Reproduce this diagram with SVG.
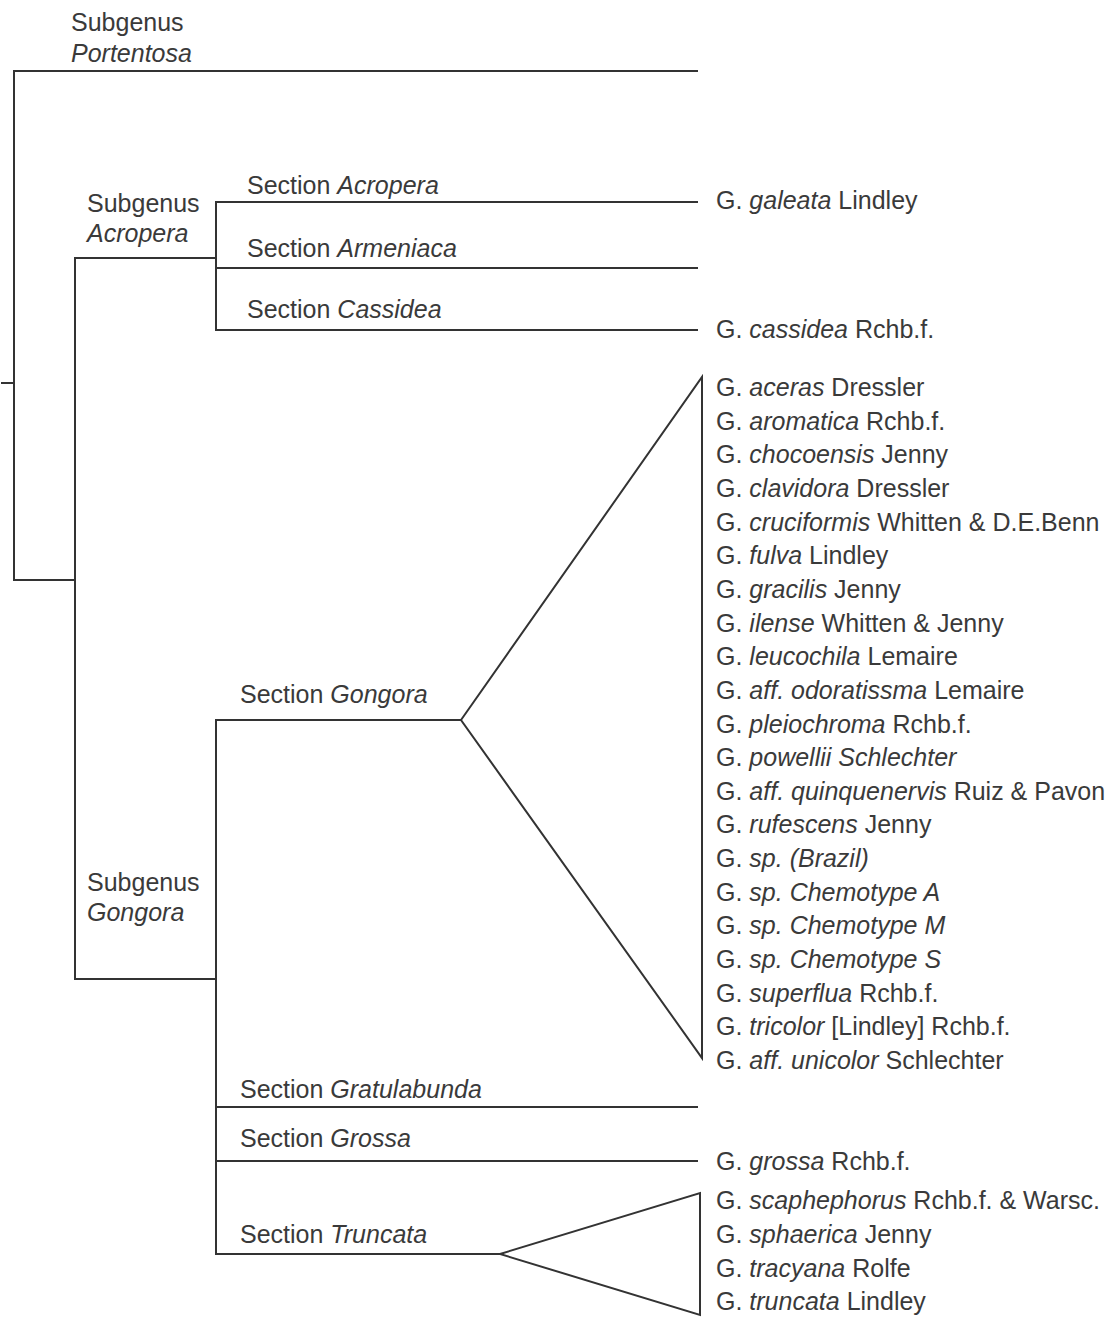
<svg xmlns="http://www.w3.org/2000/svg" width="1110" height="1317" viewBox="0 0 1110 1317">
  <style>
    .br { fill: none; stroke: #333; stroke-width: 2; stroke-linejoin: miter; stroke-linecap: square; }
    text { font-family: "Liberation Sans", Arial, sans-serif; font-size: 25px; fill: #3a3a3a; }
    .i { font-style: italic; }
  </style>
  <rect width="1110" height="1317" fill="#fff"/>

  <!-- tree branches -->
  <g id="connectors">
    <!-- root -->
    <path class="br" d="M2,383 H14"/>
    <path class="br" d="M697,71 H14 V580 H75"/>
    <!-- subgenera -->
    <path class="br" d="M216,258 H75 V979 H216"/>
    <!-- subgenus Acropera sections -->
    <path class="br" d="M697,202 H216 V330 H697"/>
    <path class="br" d="M216,268 H697"/>
    <!-- subgenus Gongora sections -->
    <path class="br" d="M461,720 H216 V1254 H500"/>
    <path class="br" d="M216,1107 H697"/>
    <path class="br" d="M216,1161 H697"/>
    <!-- collapsed clades -->
    <path class="br" d="M461,720 L702,377 V1058 Z"/>
    <path class="br" d="M500,1254 L700,1193 V1315 Z"/>
  </g>

  <!-- subgenus labels -->
  <g id="subgenus-portentosa">
    <text x="71" y="31">Subgenus</text>
    <text x="71" y="62" class="i">Portentosa</text>
  </g>
  <g id="subgenus-acropera">
    <text x="87" y="212">Subgenus</text>
    <text x="87" y="242" class="i">Acropera</text>
  </g>
  <g id="subgenus-gongora">
    <text x="87" y="891">Subgenus</text>
    <text x="87" y="921" class="i">Gongora</text>
  </g>

  <!-- section labels -->
  <g id="section-acropera"><text x="247" y="194">Section <tspan class="i">Acropera</tspan></text></g>
  <g id="section-armeniaca"><text x="247" y="257">Section <tspan class="i">Armeniaca</tspan></text></g>
  <g id="section-cassidea"><text x="247" y="318">Section <tspan class="i">Cassidea</tspan></text></g>
  <g id="section-gongora"><text x="240" y="703">Section <tspan class="i">Gongora</tspan></text></g>
  <g id="section-gratulabunda"><text x="240" y="1098">Section <tspan class="i">Gratulabunda</tspan></text></g>
  <g id="section-grossa"><text x="240" y="1147">Section <tspan class="i">Grossa</tspan></text></g>
  <g id="section-truncata"><text x="240" y="1243">Section <tspan class="i">Truncata</tspan></text></g>

  <!-- species -->
  <g id="species-acropera">
    <text x="716" y="209">G. <tspan class="i">galeata</tspan> Lindley</text>
  </g>
  <g id="species-cassidea">
    <text x="716" y="338">G. <tspan class="i">cassidea</tspan> Rchb.f.</text>
  </g>
  <g id="species-gongora">
    <text x="716" y="396">G. <tspan class="i">aceras</tspan> Dressler</text>
    <text x="716" y="430">G. <tspan class="i">aromatica</tspan> Rchb.f.</text>
    <text x="716" y="463">G. <tspan class="i">chocoensis</tspan> Jenny</text>
    <text x="716" y="497">G. <tspan class="i">clavidora</tspan> Dressler</text>
    <text x="716" y="531">G. <tspan class="i">cruciformis</tspan> Whitten &amp; D.E.Benn</text>
    <text x="716" y="564">G. <tspan class="i">fulva</tspan> Lindley</text>
    <text x="716" y="598">G. <tspan class="i">gracilis</tspan> Jenny</text>
    <text x="716" y="632">G. <tspan class="i">ilense</tspan> Whitten &amp; Jenny</text>
    <text x="716" y="665">G. <tspan class="i">leucochila</tspan> Lemaire</text>
    <text x="716" y="699">G. <tspan class="i">aff. odoratissma</tspan> Lemaire</text>
    <text x="716" y="733">G. <tspan class="i">pleiochroma</tspan> Rchb.f.</text>
    <text x="716" y="766">G. <tspan class="i">powellii Schlechter</tspan></text>
    <text x="716" y="800">G. <tspan class="i">aff. quinquenervis</tspan> Ruiz &amp; Pavon</text>
    <text x="716" y="833">G. <tspan class="i">rufescens</tspan> Jenny</text>
    <text x="716" y="867">G. <tspan class="i">sp. (Brazil)</tspan></text>
    <text x="716" y="901">G. <tspan class="i">sp. Chemotype A</tspan></text>
    <text x="716" y="934">G. <tspan class="i">sp. Chemotype M</tspan></text>
    <text x="716" y="968">G. <tspan class="i">sp. Chemotype S</tspan></text>
    <text x="716" y="1002">G. <tspan class="i">superflua</tspan> Rchb.f.</text>
    <text x="716" y="1035">G. <tspan class="i">tricolor</tspan> [Lindley] Rchb.f.</text>
    <text x="716" y="1069">G. <tspan class="i">aff. unicolor</tspan> Schlechter</text>
  </g>
  <g id="species-grossa">
    <text x="716" y="1170">G. <tspan class="i">grossa</tspan> Rchb.f.</text>
  </g>
  <g id="species-truncata">
    <text x="716" y="1209">G. <tspan class="i">scaphephorus</tspan> Rchb.f. &amp; Warsc.</text>
    <text x="716" y="1243">G. <tspan class="i">sphaerica</tspan> Jenny</text>
    <text x="716" y="1277">G. <tspan class="i">tracyana</tspan> Rolfe</text>
    <text x="716" y="1310">G. <tspan class="i">truncata</tspan> Lindley</text>
  </g>
</svg>
